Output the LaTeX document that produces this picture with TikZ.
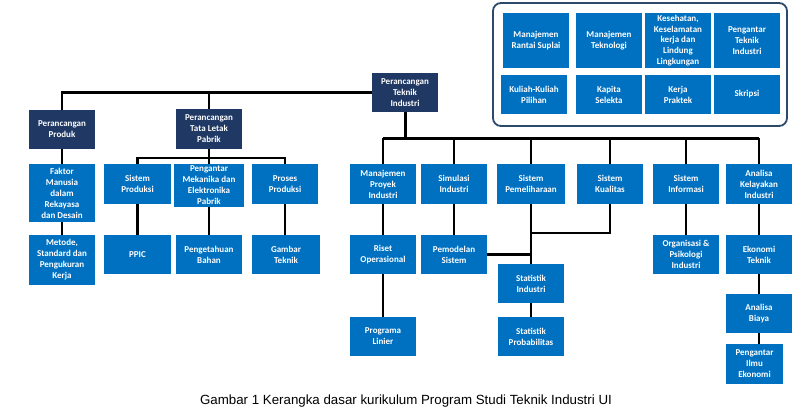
\documentclass[tikz,border=0pt]{standalone}
\usepackage{fontspec}
\setmainfont{Carlito}
\newfontfamily\capfont{Liberation Sans}
\definecolor{boxblue}{RGB}{0,112,192}
\definecolor{darkblue}{RGB}{31,56,100}
\definecolor{framecol}{RGB}{46,74,107}
\begin{document}
\begin{tikzpicture}[x=1pt,y=-1pt,
    box/.style={fill=boxblue, text=white, font=\bfseries\fontsize{9}{11}\selectfont,
                align=center, inner sep=0.5pt, minimum width=66pt, minimum height=40pt},
    dark/.style={box, fill=darkblue},
    conn/.style={line width=2.2pt},
    bus/.style={line width=3pt}]
\useasboundingbox (0,0) rectangle (812,418);
\fill[white] (0,0) rectangle (812,418);

% kotak kanan atas
\draw[framecol, line width=1.8pt, rounded corners=8pt] (493,3) rectangle (787,126);
\node[box, minimum height=55pt] (mrs) at (536,40.5) {Manajemen\\Rantai Suplai};
\node[box, minimum height=55pt] (mtek) at (609,40.5) {Manajemen\\Teknologi};
\node[box, minimum height=55pt, font=\bfseries\fontsize{9}{10.6}\selectfont] (k3) at (678,40.5) {Kesehatan,\\Keselamatan\\kerja dan\\Lindung\\Lingkungan};
\node[box, minimum height=55pt] (pengti) at (747,40.5) {Pengantar\\Teknik\\Industri};
\node[box, minimum height=39pt] (pilihan) at (534,94.5) {Kuliah-Kuliah\\Pilihan};
\node[box, minimum height=39pt] (kapita) at (609,94.5) {Kapita\\Selekta};
\node[box, minimum height=39pt] (kp) at (678,94.5) {Kerja\\Praktek};
\node[box, minimum height=39pt] (skripsi) at (747,94.5) {Skripsi};

% pohon
\node[dark, minimum height=39pt] (prod) at (62,129.5) {Perancangan\\Produk};
\node[dark] (tata) at (209,129) {Perancangan\\Tata Letak\\Pabrik};
\node[dark, minimum height=39pt] (pti) at (405,92.5) {Perancangan\\Teknik\\Industri};

\node[box, minimum height=58pt] (faktor) at (62,193) {Faktor\\Manusia\\dalam\\Rekayasa\\dan Desain};
\node[box, minimum height=50pt] (metode) at (62,260) {Metode,\\Standard dan\\Pengukuran\\Kerja};
\node[box, minimum width=67pt] (sisprod) at (137.5,184) {Sistem\\Produksi};
\node[box, minimum width=70pt, minimum height=43pt] (mekanika) at (209,185.5) {Pengantar\\Mekanika dan\\Elektronika\\Pabrik};
\node[box] (proses) at (285,184) {Proses\\Produksi};
\node[box, minimum width=67pt, minimum height=39pt] (ppic) at (137.5,254.5) {PPIC};
\node[box, minimum height=39pt] (bahan) at (209,254.5) {Pengetahuan\\Bahan};
\node[box, minimum width=68pt, minimum height=39pt] (gambar) at (286,254.5) {Gambar\\Teknik};

\node[box] (mpi) at (383,184) {Manajemen\\Proyek\\Industri};
\node[box] (simulasi) at (454,184) {Simulasi\\Industri};
\node[box, minimum width=68pt] (pemeliharaan) at (531,184) {Sistem\\Pemeliharaan};
\node[box] (kualitas) at (610,184) {Sistem\\Kualitas};
\node[box] (informasi) at (686,184) {Sistem\\Informasi};
\node[box] (kelayakan) at (759,184) {Analisa\\Kelayakan\\Industri};

\node[box, minimum height=39pt] (riset) at (383,254.5) {Riset\\Operasional};
\node[box, minimum height=39pt] (pemodelan) at (454,254.5) {Pemodelan\\Sistem};
\node[box, minimum height=39pt] (statind) at (531,283.5) {Statistik\\Industri};
\node[box, minimum height=39pt] (statprob) at (531,336.5) {Statistik\\Probabilitas};
\node[box, minimum height=39pt] (programa) at (383,336.5) {Programa\\Linier};
\node[box, minimum height=39pt] (organisasi) at (686,254.5) {Organisasi \&\\Psikologi\\Industri};
\node[box, minimum height=39pt] (ekonomi) at (759,254.5) {Ekonomi\\Teknik};
\node[box, minimum height=39pt] (biaya) at (759,313.5) {Analisa\\Biaya};
\node[box, minimum width=57pt] (pie) at (754.5,364) {Pengantar\\Ilmu\\Ekonomi};

% garis
\coordinate (tl) at (137.5,158);
\coordinate (bus) at (383,138);
\coordinate (kq) at (531,233);
\draw[conn] (prod.north) |- (pti.west);
\draw[conn] (tata.north) -- (tata.north |- pti.west);
\draw[conn] (prod.south) -- (faktor.north);
\draw[conn] (faktor.south) -- (metode.north);
\draw[conn] (tata.south) -- (mekanika.north);
\draw[conn] (sisprod.north) -- (sisprod.north |- tl) -- (proses.north |- tl) -- (proses.north);
\draw[conn] (sisprod.south) -- (ppic.north);
\draw[conn] (mekanika.south) -- (bahan.north);
\draw[conn] (proses.south) -- (proses.south |- gambar.north);

\draw[bus] (pti.south) -- (pti.south |- bus);
\draw[bus] (mpi.north |- bus) -- (kelayakan.north |- bus);
\foreach \n in {mpi,simulasi,pemeliharaan,kualitas,informasi,kelayakan}
  \draw[conn] (\n.north) -- (\n.north |- bus);

\draw[conn] (mpi.south) -- (riset.north);
\draw[conn] (riset.south) -- (programa.north);
\draw[conn] (simulasi.south) -- (pemodelan.north);
\draw[conn] (pemeliharaan.south) -- (statind.north);
\draw[conn] (kualitas.south) |- (kq);
\draw[conn] (pemodelan.east) -- (pemodelan.east -| statind.north);
\draw[conn] (statind.south) -- (statprob.north);
\draw[conn] (informasi.south) -- (organisasi.north);
\draw[conn] (kelayakan.south) -- (ekonomi.north);
\draw[conn] (ekonomi.south) -- (biaya.north);
\draw[conn] (biaya.south) -- (biaya.south |- pie.north);

\node[font=\capfont\fontsize{13.3}{15}\selectfont] (caption) at (406,401) {Gambar 1 Kerangka dasar kurikulum Program Studi Teknik Industri UI};
\end{tikzpicture}
\end{document}
